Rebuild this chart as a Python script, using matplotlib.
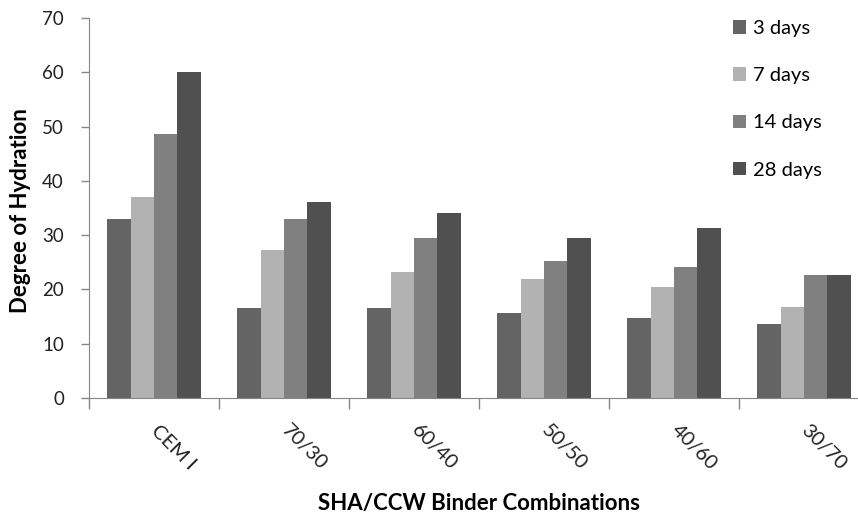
import numpy as np
import matplotlib
matplotlib.use("Agg")
import matplotlib.pyplot as plt
import matplotlib.transforms as mtransforms

plt.rcParams['font.family'] = ['Lato', 'DejaVu Sans']

categories = ["CEM I", "70/30", "60/40", "50/50", "40/60", "30/70"]
series = ["3 days", "7 days", "14 days", "28 days"]
d3 = [33.0, 16.6, 16.6, 15.6, 14.8, 13.7]
d7 = [37.0, 27.3, 23.3, 22.0, 20.4, 16.7]
d14 = [48.6, 33.0, 29.4, 25.3, 24.2, 22.6]
d28 = [60.0, 36.1, 34.0, 29.4, 31.4, 22.6]
colors = ["#646464", "#b2b2b2", "#808080", "#505050"]

fig = plt.figure(figsize=(8.58, 5.15), dpi=100)
ax = fig.add_axes([89/858, 1-398/515, 780/858, 380/515])

x = np.arange(len(categories))
w = 0.179
for i, (vals, lab) in enumerate(zip([d3, d7, d14, d28], series)):
    ax.bar(x + (i - 1.5)*w, vals, width=w, color=colors[i], label=lab, linewidth=0)

ax.set_xlim(-0.5, len(categories) - 0.5)
ax.set_ylim(0, 70)
ax.set_yticks(range(0, 71, 10))
ax.tick_params(axis='y', labelsize=13.5, length=6, width=1, color='#868686',
               pad=12, labelcolor='#222222')

ax.set_xticks(np.arange(-0.5, len(categories)), [])
ax.tick_params(axis='x', which='major', length=8, width=1, color='#868686')
ax.set_xticks(x, categories, minor=True)
ax.tick_params(axis='x', which='minor', length=0, pad=17, labelsize=14.5,
               labelcolor='#222222')
shift = mtransforms.ScaledTranslation(-6/100, 0, fig.dpi_scale_trans)
for t in ax.get_xticklabels(minor=True):
    t.set_rotation(-45)
    t.set_ha('left')
    t.set_va('top')
    t.set_transform(t.get_transform() + shift)

for s in ['top', 'right']:
    ax.spines[s].set_visible(False)
for s in ['left', 'bottom']:
    ax.spines[s].set_color('#868686')

fig.text(21/858, 1-211/515, 'Degree of Hydration', rotation=90, fontsize=16,
         fontweight='bold', ha='center', va='center', color='black')
fig.text(479/858, 1-510/515, 'SHA/CCW Binder Combinations', fontsize=16,
         fontweight='bold', ha='center', va='baseline', color='black')

ax.legend(loc='upper left', bbox_to_anchor=(723/858, 1-10/515), bbox_transform=fig.transFigure,
          frameon=False, fontsize=14.5, handlelength=0.65, handleheight=0.65,
          handletextpad=0.35, labelspacing=1.5, borderpad=0)

fig.savefig("out.png", dpi=100)
